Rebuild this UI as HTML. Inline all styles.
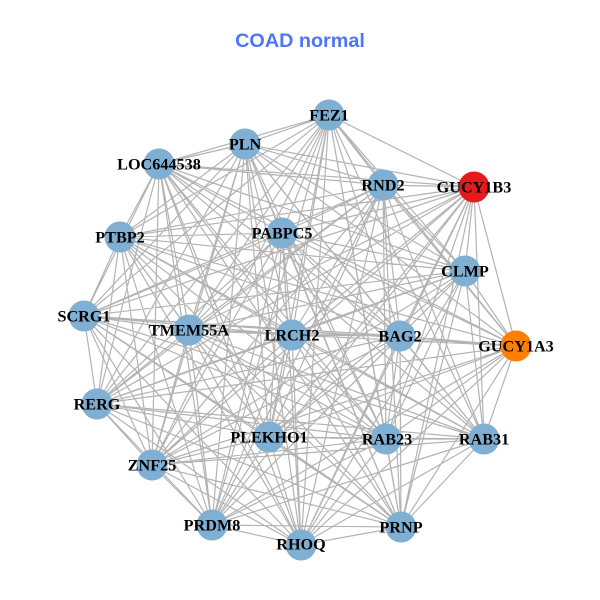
<!DOCTYPE html>
<html><head><meta charset="utf-8"><style>html,body{margin:0;padding:0;background:#fff}svg{display:block}</style></head><body>
<svg width="600" height="600" viewBox="0 0 600 600" xmlns="http://www.w3.org/2000/svg">
<rect width="600" height="600" fill="#fff"/>
<text x="300" y="47" text-anchor="middle" font-family="'Liberation Sans',sans-serif" font-weight="bold" font-size="19.8" fill="#4d76f5">COAD normal</text>
<path fill="none" stroke="#b3b3b3" stroke-width="1.2" d="
M329 115L245 144M329 115L159 164M329 115L383 185M329 115L474 187M329 115L120 237M329 115L282 233M329 115L465 271M329 115L84 316M329 115L189 330M329 115L292 335M329 115L400 336M329 115L516 346M329 115L97 404M329 115L269 437M329 115L386 439M329 115L484 439M329 115L152 465M329 115L212 525M329 115L301 545M329 115L401 527
M245 144L159 164M245 144L383 185M245 144L474 187M245 144L120 237M245 144L282 233M245 144L465 271M245 144L84 316M245 144L189 330M245 144L292 335M245 144L400 336M245 144L516 346M245 144L97 404M245 144L269 437M245 144L386 439M245 144L484 439M245 144L152 465M245 144L212 525M245 144L301 545M245 144L401 527
M159 164L383 185M159 164L474 187M159 164L120 237M159 164L282 233M159 164L465 271M159 164L84 316M159 164L189 330M159 164L292 335M159 164L400 336M159 164L516 346M159 164L97 404M159 164L269 437M159 164L386 439M159 164L484 439M159 164L152 465M159 164L212 525M159 164L301 545M159 164L401 527
M383 185L474 187M383 185L120 237M383 185L282 233M383 185L465 271M383 185L84 316M383 185L189 330M383 185L292 335M383 185L400 336M383 185L516 346M383 185L97 404M383 185L269 437M383 185L386 439M383 185L484 439M383 185L152 465M383 185L212 525M383 185L301 545M383 185L401 527
M474 187L120 237M474 187L282 233M474 187L465 271M474 187L84 316M474 187L189 330M474 187L292 335M474 187L400 336M474 187L516 346M474 187L97 404M474 187L269 437M474 187L386 439M474 187L484 439M474 187L152 465M474 187L212 525M474 187L301 545M474 187L401 527
M120 237L282 233M120 237L465 271M120 237L84 316M120 237L189 330M120 237L292 335M120 237L400 336M120 237L516 346M120 237L97 404M120 237L269 437M120 237L386 439M120 237L484 439M120 237L152 465M120 237L212 525M120 237L301 545M120 237L401 527
M282 233L465 271M282 233L84 316M282 233L189 330M282 233L292 335M282 233L400 336M282 233L516 346M282 233L97 404M282 233L269 437M282 233L386 439M282 233L484 439M282 233L152 465M282 233L212 525M282 233L301 545M282 233L401 527
M465 271L84 316M465 271L189 330M465 271L292 335M465 271L400 336M465 271L516 346M465 271L97 404M465 271L269 437M465 271L386 439M465 271L484 439M465 271L152 465M465 271L212 525M465 271L301 545M465 271L401 527
M84 316L189 330M84 316L292 335M84 316L400 336M84 316L516 346M84 316L97 404M84 316L269 437M84 316L386 439M84 316L484 439M84 316L152 465M84 316L212 525M84 316L301 545M84 316L401 527
M189 330L292 335M189 330L400 336M189 330L516 346M189 330L97 404M189 330L269 437M189 330L386 439M189 330L484 439M189 330L152 465M189 330L212 525M189 330L301 545M189 330L401 527
M292 335L400 336M292 335L516 346M292 335L97 404M292 335L269 437M292 335L386 439M292 335L484 439M292 335L152 465M292 335L212 525M292 335L301 545M292 335L401 527
M400 336L516 346M400 336L97 404M400 336L269 437M400 336L386 439M400 336L484 439M400 336L152 465M400 336L212 525M400 336L301 545M400 336L401 527
M516 346L97 404M516 346L269 437M516 346L386 439M516 346L484 439M516 346L152 465M516 346L212 525M516 346L301 545M516 346L401 527
M97 404L269 437M97 404L386 439M97 404L484 439M97 404L152 465M97 404L212 525M97 404L301 545M97 404L401 527
M269 437L386 439M269 437L484 439M269 437L152 465M269 437L212 525M269 437L301 545M269 437L401 527
M386 439L484 439M386 439L152 465M386 439L212 525M386 439L301 545M386 439L401 527
M484 439L152 465M484 439L212 525M484 439L301 545M484 439L401 527
M152 465L212 525M152 465L301 545M152 465L401 527
M212 525L301 545M212 525L401 527
M301 545L401 527"/>
<g fill="#7fb0d4">
<circle cx="329" cy="115" r="15.5"/><circle cx="245" cy="144" r="15.5"/><circle cx="159" cy="164" r="15.5"/><circle cx="383" cy="185" r="15.5"/>
<circle cx="120" cy="237" r="15.5"/><circle cx="282" cy="233" r="15.5"/><circle cx="465" cy="271" r="15.5"/><circle cx="84" cy="316" r="15.5"/>
<circle cx="189" cy="330" r="15.5"/><circle cx="292" cy="335" r="15.5"/><circle cx="400" cy="336" r="15.5"/><circle cx="97" cy="404" r="15.5"/>
<circle cx="269" cy="437" r="15.5"/><circle cx="386" cy="439" r="15.5"/><circle cx="484" cy="439" r="15.5"/><circle cx="152" cy="465" r="15.5"/>
<circle cx="212" cy="525" r="15.5"/><circle cx="301" cy="545" r="15.5"/><circle cx="401" cy="527" r="15.5"/>
</g>
<circle cx="474" cy="187" r="15.5" fill="#e41a1c"/>
<circle cx="516" cy="346" r="15.5" fill="#ff7f00"/>
<g font-family="'Liberation Serif',serif" font-weight="bold" font-size="16.2" fill="#000" text-anchor="middle" transform="translate(0,0.6)">
<text x="329" y="120">FEZ1</text>
<text x="245" y="149">PLN</text>
<text x="159" y="169">LOC644538</text>
<text x="383" y="190">RND2</text>
<text x="474" y="192">GUCY1B3</text>
<text x="120" y="242">PTBP2</text>
<text x="282" y="238">PABPC5</text>
<text x="465" y="276">CLMP</text>
<text x="84" y="321">SCRG1</text>
<text x="189" y="335">TMEM55A</text>
<text x="292" y="340">LRCH2</text>
<text x="400" y="341">BAG2</text>
<text x="516" y="351">GUCY1A3</text>
<text x="97" y="409">RERG</text>
<text x="269" y="442">PLEKHO1</text>
<text x="387" y="444">RAB23</text>
<text x="484" y="444">RAB31</text>
<text x="152" y="470">ZNF25</text>
<text x="212" y="530">PRDM8</text>
<text x="301" y="549">RHOQ</text>
<text x="401" y="532">PRNP</text>
</g>
</svg>
</body></html>
